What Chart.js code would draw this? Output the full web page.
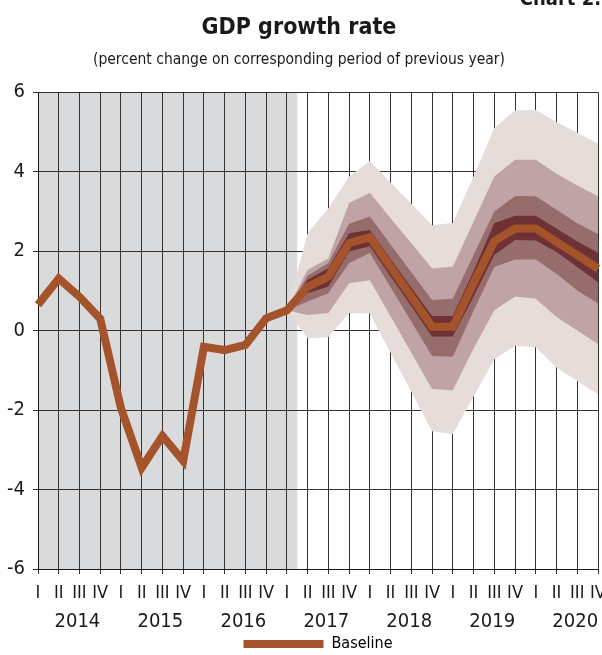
<!DOCTYPE html>
<html>
<head>
<meta charset="utf-8">
<script src="https://cdn.jsdelivr.net/npm/chart.js@4.4.1/dist/chart.umd.min.js"></script>
<style>
  body { margin: 0; background: #fff; }
  #wrap { width: 602px; height: 655px; }
</style>
</head>
<body>
<div id="wrap"><canvas id="gdp-growth"></canvas></div>
<script>
// quarters 2014 Q1 .. 2020 Q4
const quarterLabels = ['I','II','III','IV', 'I','II','III','IV', 'I','II','III','IV', 'I','II','III','IV',
                       'I','II','III','IV', 'I','II','III','IV', 'I','II','III','IV'];
const yearLabels = ['2014', '2015', '2016', '2017', '2018', '2019', '2020'];
const yearTickPos = [1.9, 5.9, 9.9, 13.9, 17.9, 21.9, 25.9];
const lastActualIndex = 12; // 2017 Q1

const baseline = [0.65, 1.31, 0.85, 0.30, -1.95, -3.45, -2.65, -3.28, -0.41, -0.49, -0.36, 0.31,
                  0.51, 1.10, 1.36, 2.20, 2.35, 1.60, 0.85, 0.10, 0.10, 1.20, 2.25, 2.57, 2.57, 2.23, 1.90, 1.56];

// fan chart band edges (forecast only)
const outerUpper = [null, null, null, null, null, null, null, null, null, null, null, null,
                    0.51, 2.45, 3.08, 3.88, 4.27, 3.73, 3.19, 2.65, 2.71, 3.88, 5.10, 5.54, 5.55, 5.25, 4.98, 4.70];
const midUpper   = [null, null, null, null, null, null, null, null, null, null, null, null,
                    0.51, 1.53, 1.82, 3.21, 3.47, 2.83, 2.20, 1.56, 1.61, 2.74, 3.88, 4.30, 4.30, 3.95, 3.65, 3.38];
const innerUpper = [null, null, null, null, null, null, null, null, null, null, null, null,
                    0.51, 1.38, 1.70, 2.69, 2.87, 2.17, 1.47, 0.77, 0.80, 1.90, 3.00, 3.39, 3.38, 3.04, 2.70, 2.43];
const coreUpper  = [null, null, null, null, null, null, null, null, null, null, null, null,
                    0.51, 1.28, 1.57, 2.45, 2.53, 1.80, 1.08, 0.37, 0.37, 1.50, 2.70, 2.89, 2.89, 2.57, 2.24, 1.96];
const coreLower  = [null, null, null, null, null, null, null, null, null, null, null, null,
                    0.51, 0.94, 1.11, 1.99, 2.12, 1.36, 0.61, -0.15, -0.15, 0.86, 1.90, 2.28, 2.27, 1.98, 1.60, 1.22];
const innerLower = [null, null, null, null, null, null, null, null, null, null, null, null,
                    0.51, 0.73, 0.94, 1.70, 1.95, 1.09, 0.22, -0.64, -0.66, 0.50, 1.60, 1.79, 1.79, 1.43, 1.01, 0.68];
const midLower   = [null, null, null, null, null, null, null, null, null, null, null, null,
                    0.51, 0.39, 0.44, 1.19, 1.27, 0.36, -0.56, -1.47, -1.50, -0.45, 0.51, 0.86, 0.80, 0.34, 0.00, -0.34];
const outerLower = [null, null, null, null, null, null, null, null, null, null, null, null,
                    0.51, -0.19, -0.17, 0.44, 0.43, -0.56, -1.54, -2.53, -2.60, -1.66, -0.72, -0.38, -0.42, -0.93, -1.27, -1.60];

const font = "'Liberation Sans Narrow', 'DejaVu Sans Condensed', 'Arial Narrow', sans-serif";
const orange = '#a5532a';
Chart.defaults.font.family = font;
Chart.defaults.color = '#1a1a1a';

function band(data, color, fill) {
  return {
    data: data, fill: fill, backgroundColor: color, borderColor: 'rgba(0,0,0,0)',
    borderWidth: 0, pointRadius: 0, tension: 0
  };
}

// grey area for actual data + the chart number cut off at the top
const historyShade = {
  id: 'historyShade',
  beforeDraw(chart) {
    const ctx = chart.ctx, area = chart.chartArea;
    const xEnd = chart.scales.x.getPixelForValue(lastActualIndex + 0.5);
    ctx.save();
    ctx.fillStyle = '#d9dadc';
    ctx.fillRect(area.left, area.top, xEnd - area.left, area.bottom - area.top);
    ctx.fillStyle = '#1a1a1a';
    ctx.font = 'bold 20px ' + font;
    ctx.textAlign = 'right';
    ctx.textBaseline = 'alphabetic';
    ctx.fillText('Chart 2.', 601, 5);
    ctx.restore();
  }
};

var gdpCanvas = document.getElementById('gdp-growth');
var gdpChart = new Chart(gdpCanvas, {
  type: 'line',
  data: {
    labels: quarterLabels,
    datasets: [
      {
        label: 'Baseline', data: baseline, borderColor: orange, backgroundColor: orange,
        borderWidth: 8, pointRadius: 0, tension: 0, fill: false,
        borderJoinStyle: 'miter', borderCapStyle: 'butt'
      },
      band(coreUpper, '#6e3236', '+1'),
      band(coreLower, '#6e3236', false),
      band(innerUpper, '#966c6d', '+1'),
      band(innerLower, '#966c6d', false),
      band(midUpper, '#c0a3a4', '+1'),
      band(midLower, '#c0a3a4', false),
      band(outerUpper, '#e6dcd9', '+1'),
      band(outerLower, '#e6dcd9', false)
    ]
  },
  options: {
    responsive: true,
    maintainAspectRatio: false,
    animation: false,
    layout: { padding: { left: 0, right: 4, top: 0, bottom: 0 } },
    plugins: {
      title: {
        display: true,
        text: 'GDP growth rate',
        font: { size: 23, weight: 'bold', lineHeight: 1.2 },
        padding: { top: 14, bottom: 2 }
      },
      subtitle: {
        display: true,
        text: '(percent change on corresponding period of previous year)',
        font: { size: 15.5, lineHeight: 1.2 },
        padding: { top: 7, bottom: 23 }
      },
      legend: {
        position: 'bottom',
        fullSize: false,
        maxHeight: 23,
        labels: {
          boxWidth: 80, boxHeight: 8, padding: 4,
          font: { size: 16 },
          generateLabels: () => [{ text: 'Baseline', fillStyle: orange, strokeStyle: orange, lineWidth: 0, datasetIndex: 0 }]
        }
      },
      tooltip: { enabled: false }
    },
    scales: {
      x: {
        z: 1,
        offset: false,
        grid: { color: '#333', lineWidth: 1, tickLength: 5 },
        border: { color: '#1a1a1a' },
        ticks: { autoSkip: false, maxRotation: 0, padding: 10, font: { size: 18, lineHeight: 1 } },
        afterFit: (scale) => { scale.paddingLeft = 0; scale.paddingRight = 0; }
      },
      years: {
        type: 'linear',
        position: 'bottom',
        weight: 1,
        min: 0,
        max: quarterLabels.length - 1,
        grid: { display: false, drawTicks: false },
        border: { display: false },
        afterBuildTicks: (scale) => { scale.ticks = yearTickPos.map(v => ({ value: v })); },
        afterFit: (scale) => { scale.paddingLeft = 0; scale.paddingRight = 0; },
        ticks: {
          autoSkip: false, maxRotation: 0, padding: 0,
          font: { size: 20, lineHeight: 1 },
          callback: (value, index) => yearLabels[index]
        }
      },
      y: {
        z: 1,
        min: -6,
        max: 6,
        grid: { color: '#333', lineWidth: 1, tickLength: 5 },
        border: { color: '#1a1a1a' },
        ticks: { stepSize: 2, padding: 8, font: { size: 20 } },
        afterFit: (scale) => { scale.width = 38; }
      }
    }
  },
  plugins: [historyShade]
});
</script>
</body>
</html>
